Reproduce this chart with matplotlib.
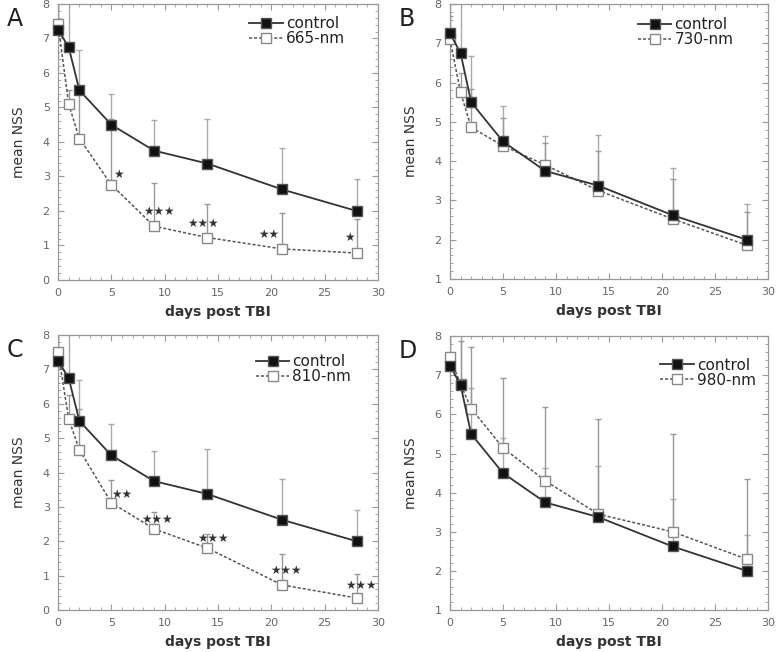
import numpy as np
import matplotlib
matplotlib.use("Agg")
import matplotlib.pyplot as plt
from matplotlib.ticker import MultipleLocator

plt.rcParams['font.family'] = ['DejaVu Sans']

days = [0, 1, 2, 5, 9, 14, 21, 28]

# control group (same in every panel)
control = [7.25, 6.75, 5.5, 4.5, 3.75, 3.375, 2.625, 2.0]
control_err = [1.0, 1.5, 1.18, 0.9, 0.88, 1.3, 1.2, 0.92]

# laser groups
nm665 = [7.42, 5.1, 4.1, 2.76, 1.56, 1.23, 0.9, 0.78]
nm665_err = [0.8, 0.4, 1.5, 1.9, 1.25, 0.97, 1.04, 0.98]
nm730 = [7.1, 5.75, 4.86, 4.39, 3.9, 3.25, 2.53, 1.86]
nm730_err = [0.6, 0.5, 0.98, 0.71, 0.56, 1.0, 1.02, 0.85]
nm810 = [7.5, 5.56, 4.66, 3.12, 2.36, 1.8, 0.73, 0.35]
nm810_err = [0.6, 0.7, 1.2, 0.66, 0.48, 0.4, 0.9, 0.7]
nm980 = [7.46, 6.77, 6.15, 5.15, 4.3, 3.45, 3.0, 2.3]
nm980_err = [0.8, 1.1, 1.57, 1.77, 1.89, 2.42, 2.5, 2.05]

# significance stars (x, y, text)
stars_665 = [(5.7, 3.07, '★'), (9.5, 2.0, '★★★'), (13.6, 1.63, '★★★'),
             (19.8, 1.33, '★★'), (27.3, 1.22, '★')]
stars_810 = [(6.0, 3.37, '★★'), (9.3, 2.62, '★★★'), (14.5, 2.07, '★★★'),
             (21.4, 1.15, '★★★'), (28.4, 0.71, '★★★')]

panels = [
    ('A', '665-nm', nm665, nm665_err, (0, 8), stars_665,
     [0.0742, 0.5706, 0.4092, 0.4233], (0.93, 0.995)),
    ('B', '730-nm', nm730, nm730_err, (1, 8), [],
     [0.5754, 0.5721, 0.4066, 0.4218], (0.925, 0.99)),
    ('C', '810-nm', nm810, nm810_err, (0, 8), stars_810,
     [0.0742, 0.0644, 0.4092, 0.4218], (0.95, 0.97)),
    ('D', '980-nm', nm980, nm980_err, (1, 8), [],
     [0.5754, 0.0644, 0.4066, 0.4200], (0.995, 0.96)),
]

fig = plt.figure(figsize=(7.82, 6.52), dpi=100)

for letter, name, vals, errs, ylim, stars, pos, leg_pos in panels:
    ax = fig.add_axes(pos)
    zeros = np.zeros(len(days))
    ax.errorbar(days, control, yerr=[zeros, control_err], fmt='none',
                ecolor='#aaaaaa', elinewidth=1, capsize=2, zorder=1)
    ax.errorbar(days, vals, yerr=[zeros, errs], fmt='none',
                ecolor='#999999', elinewidth=1, capsize=2, zorder=1)
    ax.plot(days, control, '-s', color='#333333', lw=1.3, ms=6.5,
            mfc='#111111', mec='#555555', label='control', zorder=4, clip_on=False)
    ax.plot(days, vals, linestyle=(0, (2, 1.3)), marker='s', color='#555555',
            lw=1.1, ms=7, mfc='white', mec='#888888', label=name, zorder=3,
            clip_on=False)

    for sx, sy, s in stars:
        ax.text(sx, sy, s, ha='center', va='center', fontsize=8.5,
                color='#333333')

    ax.set_xlim(0, 30)
    ax.set_ylim(*ylim)
    ax.xaxis.set_major_locator(MultipleLocator(5))
    ax.xaxis.set_minor_locator(MultipleLocator(1))
    ax.yaxis.set_major_locator(MultipleLocator(1))
    ax.yaxis.set_minor_locator(MultipleLocator(0.2))
    ax.tick_params(which='both', direction='in', top=True, right=True,
                   color='#999999', labelcolor='#666666', labelsize=8)
    ax.tick_params(which='major', length=4, pad=6)
    ax.tick_params(which='minor', length=2)
    for sp in ax.spines.values():
        sp.set_color('#999999')
        sp.set_linewidth(0.9)

    ax.set_xlabel('days post TBI', fontsize=10, fontweight='bold',
                  color='#333333', labelpad=5)
    ax.set_ylabel('mean NSS', fontsize=10, color='#333333', labelpad=12)

    leg = ax.legend(loc='upper right', bbox_to_anchor=leg_pos, frameon=False,
                    fontsize=11, handlelength=2.2, handletextpad=0.2,
                    labelspacing=0.0, borderpad=0.2)
    for t in leg.get_texts():
        t.set_color('#222222')

    fig.text(pos[0] - 0.066, pos[1] + pos[3] - 0.005, letter, fontsize=17,
             color='#222222', ha='left', va='top')

fig.savefig('out.png', dpi=100)
